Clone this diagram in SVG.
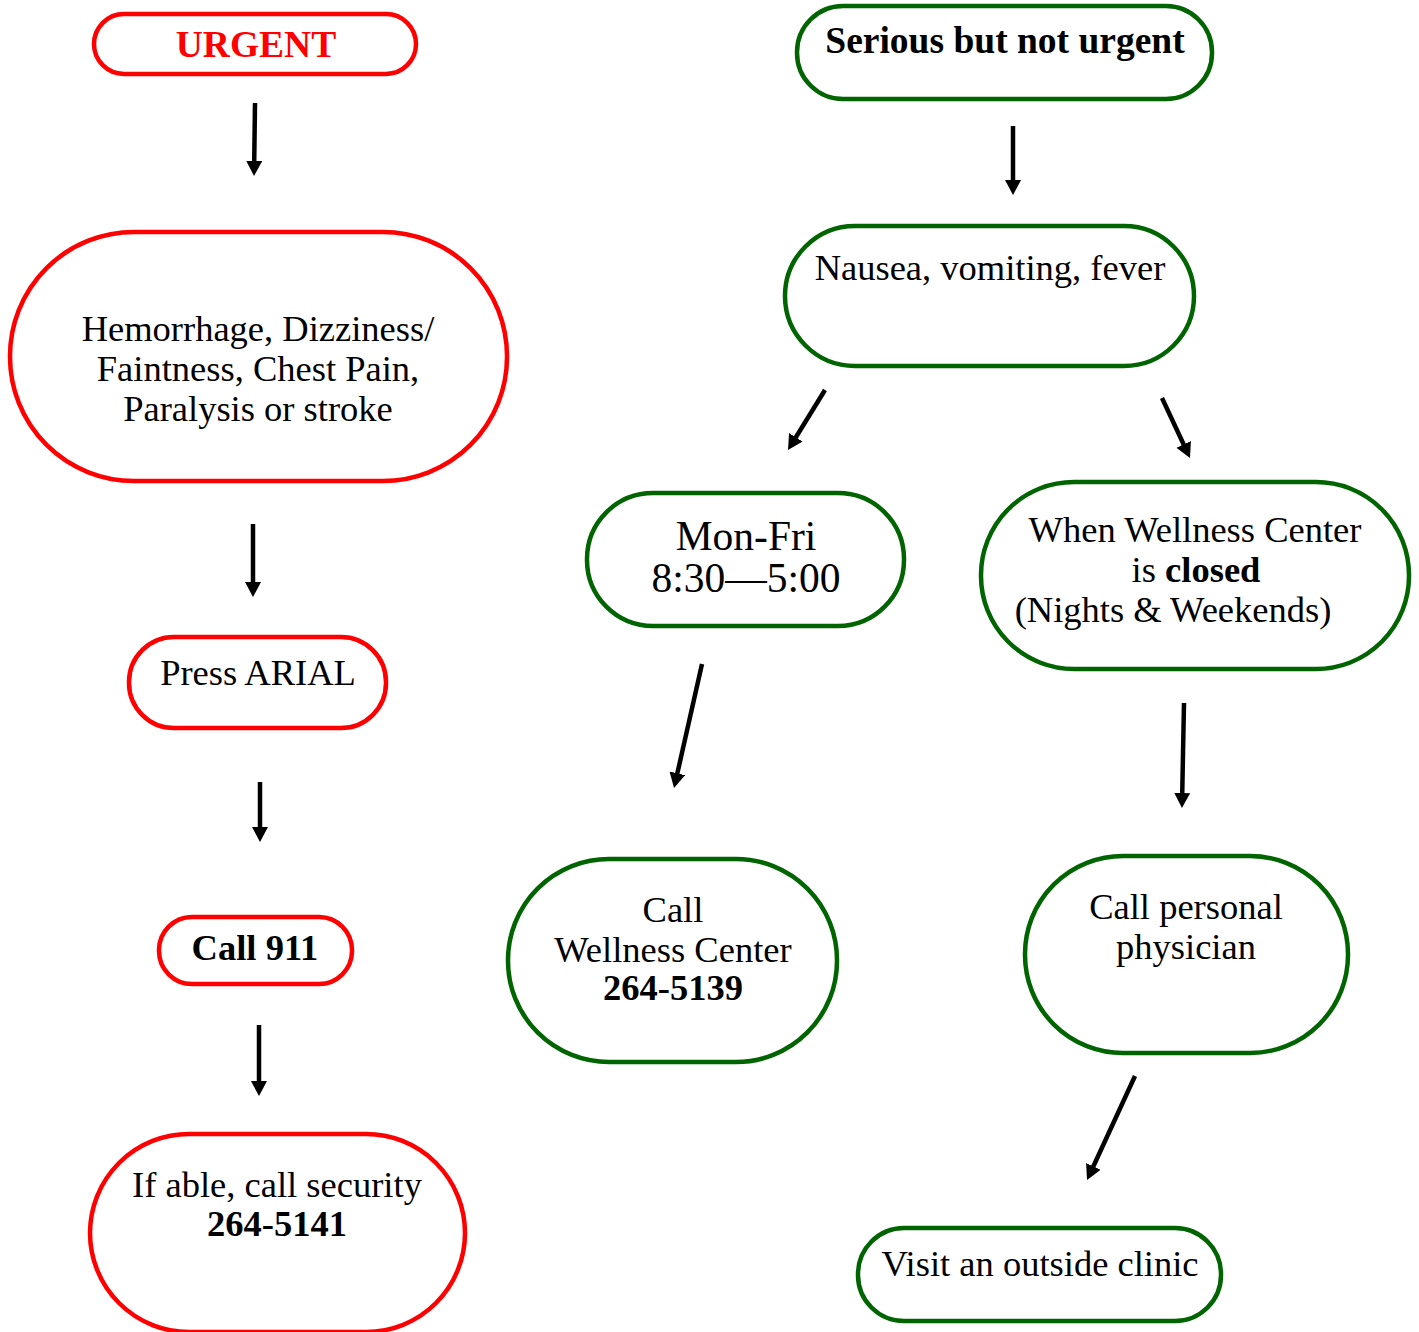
<svg xmlns="http://www.w3.org/2000/svg" width="1419" height="1332" viewBox="0 0 1419 1332">
<defs>
<marker id="ah" markerUnits="userSpaceOnUse" markerWidth="18" markerHeight="18" refX="2" refY="8" orient="auto">
<path d="M0,0 L15,8 L0,16 z" fill="#000"/>
</marker>
<style>
.r{fill:#fff;stroke:#ff0000;stroke-width:4.5}
.g{fill:#fff;stroke:#006400;stroke-width:4.5}
text{font-family:"Liberation Serif","Times New Roman",serif;font-size:36.5px;fill:#000;text-anchor:middle}
.b{font-weight:bold}
.t{font-size:37.5px}
.c line{stroke:#000;stroke-width:4.5;marker-end:url(#ah)}
</style>
</defs>
<rect width="1419" height="1332" fill="#fff"/>
<g id="urgent"><rect class="r" x="94" y="14" width="322" height="60" rx="30"/><text x="256" y="57" class="b t" style="fill:#ff0000">URGENT</text></g>
<g id="serious"><rect class="g" x="797" y="6" width="415" height="93" rx="46"/><text x="1005" y="53" class="b t">Serious but not urgent</text></g>
<g id="hemorrhage"><rect class="r" x="10" y="232" width="497" height="249" rx="124"/><text x="258" y="341">Hemorrhage, Dizziness/</text><text x="258" y="381">Faintness, Chest Pain,</text><text x="258" y="421">Paralysis or stroke</text></g>
<g id="nausea"><rect class="g" x="785" y="226" width="409" height="140" rx="70"/><text x="990" y="280">Nausea, vomiting, fever</text></g>
<g id="monfri"><rect class="g" x="587" y="493" width="317" height="133" rx="66"/><text x="746" y="550" style="font-size:41.5px">Mon-Fri</text><text x="746" y="592" style="font-size:41.5px">8:30—5:00</text></g>
<g id="closed"><rect class="g" x="981" y="482" width="428" height="187" rx="93"/><text x="1195" y="542">When Wellness Center</text><text x="1196" y="582">is <tspan class="b">closed</tspan></text><text x="1173" y="622">(Nights &amp; Weekends)</text></g>
<g id="arial"><rect class="r" x="129" y="637" width="257" height="91" rx="45"/><text x="258" y="685">Press ARIAL</text></g>
<g id="call911"><rect class="r" x="159" y="917" width="193" height="67" rx="33"/><text x="255" y="960" class="b">Call 911</text></g>
<g id="callwellness"><rect class="g" x="508" y="859" width="329" height="203" rx="101"/><text x="673" y="922">Call</text><text x="673" y="962">Wellness Center</text><text x="673" y="1000" class="b">264-5139</text></g>
<g id="physician"><rect class="g" x="1025" y="856" width="323" height="197" rx="98"/><text x="1186" y="919">Call personal</text><text x="1186" y="959">physician</text></g>
<g id="security"><rect class="r" x="90" y="1134" width="375" height="198" rx="99"/><text x="277" y="1197">If able, call security</text><text x="277" y="1236" class="b">264-5141</text></g>
<g id="clinic"><rect class="g" x="858" y="1228" width="363" height="93" rx="46"/><text x="1040" y="1276">Visit an outside clinic</text></g>
<g id="connectors" class="c">
<line x1="255" y1="103" x2="254.2" y2="163"/>
<line x1="253" y1="524" x2="253" y2="584"/>
<line x1="260" y1="782" x2="260" y2="829"/>
<line x1="259" y1="1025" x2="259" y2="1083"/>
<line x1="1013" y1="126" x2="1013" y2="182"/>
<line x1="825" y1="390" x2="794.8" y2="439"/>
<line x1="1162" y1="398" x2="1184.5" y2="446.2"/>
<line x1="702" y1="664" x2="676.9" y2="775.3"/>
<line x1="1184" y1="703" x2="1182.2" y2="795"/>
<line x1="1135" y1="1076" x2="1092.5" y2="1168.2"/>
</g>
</svg>
